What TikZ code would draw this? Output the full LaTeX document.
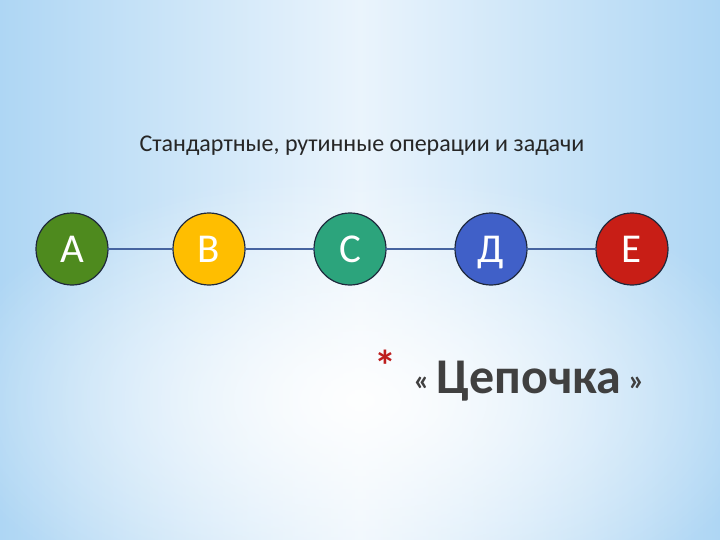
\documentclass[tikz,border=0pt]{standalone}
\usepackage{fontspec}
\setmainfont{Carlito}
\usetikzlibrary{fadings}
\tikzfading[name=softblob, inner color=transparent!0, outer color=transparent!100]
\definecolor{bgedge}{RGB}{174,214,244}
\definecolor{bgmid}{RGB}{234,244,252}
\definecolor{cA}{RGB}{78,138,30}
\definecolor{cB}{RGB}{255,190,0}
\definecolor{cC}{RGB}{44,164,124}
\definecolor{cD}{RGB}{64,96,200}
\definecolor{cE}{RGB}{200,30,22}
\definecolor{ringc}{RGB}{30,40,60}
\definecolor{linkc}{RGB}{70,100,160}
\definecolor{titlec}{RGB}{64,64,64}
\definecolor{starc}{RGB}{190,30,30}
\tikzset{
  ball/.style={circle, draw=ringc, line width=1.2pt, minimum size=72pt, inner sep=0pt,
    text=white, font=\fontsize{41}{44}\selectfont, text height=27pt, text depth=0pt},
  link/.style={draw=linkc, line width=1.3pt},
  enddot/.style={circle, fill=linkc, inner sep=0pt, minimum size=3pt}
}
\begin{document}
\begin{tikzpicture}[x=1pt,y=-1pt]
\useasboundingbox (0,0) rectangle (720,540);
\shade[left color=bgedge, right color=bgedge, middle color=bgmid] (0,0) rectangle (720,540);
\fill[white, opacity=0.95, path fading=softblob] (360,400) ellipse (420 and 230);
\node[font=\fontsize{24}{28}\selectfont, text=black!85] (title) at (362,146) {Стандартные, рутинные операции и задачи};
\node[ball, fill=cA] (A) at (72,249) {A};
\node[ball, fill=cB] (B) at (209,249) {B};
\node[ball, fill=cC] (C) at (350,249) {C};
\node[ball, fill=cD] (D) at (491,249) {Д};
\node[ball, fill=cE] (E) at (632,249) {E};
\foreach \p/\q in {A/B,B/C,C/D,D/E}{
  \draw[link] (\p.east) -- (\q.west);
  \node[enddot] at (\p.east) {};
  \node[enddot] at (\q.west) {};
}
\node[text=starc, font=\bfseries\fontsize{44}{44}\selectfont] (star) at (385,366) {*};
\node[text=titlec, font=\bfseries\fontsize{50}{56}\selectfont] (chain) at (529,381)
  {\raisebox{3pt}{\fontsize{30}{30}\selectfont«}\hspace{7pt}Цепочка\hspace{7pt}\raisebox{3pt}{\fontsize{30}{30}\selectfont»}};
\end{tikzpicture}
\end{document}
